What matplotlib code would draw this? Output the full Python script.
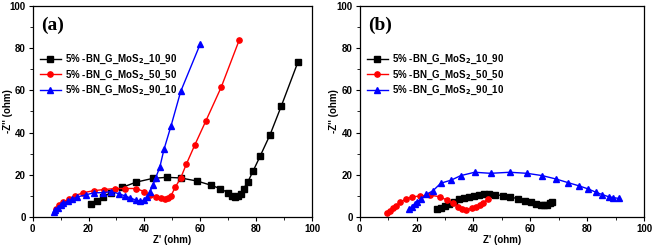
import matplotlib.pyplot as plt
from matplotlib.ticker import MultipleLocator

plt.rcParams['font.family'] = 'Liberation Sans'
plt.rcParams['font.weight'] = 'bold'
plt.rcParams['mathtext.default'] = 'bf'

labels = ["5% -BN_G_MoS$_2$_10_90", "5% -BN_G_MoS$_2$_50_50", "5% -BN_G_MoS$_2$_90_10"]
colors = ["black", "red", "blue"]
markers = ["s", "o", "^"]

# panel (a)
a_x_1090 = [21, 23, 25, 28, 32, 37, 43, 48, 53, 59, 64, 67, 70, 71.5, 72.5, 73.5, 74.5, 75.5, 77, 79, 81.5, 85, 89, 95]
a_y_1090 = [6, 7.5, 9.5, 11.5, 14, 16.5, 18.3, 18.8, 18.5, 17, 15, 13.5, 11.5, 10, 9.5, 10, 11, 13.5, 16.5, 22, 29, 39, 52.5, 73.5]
a_x_5050 = [8.5, 9.5, 11, 13, 15, 18, 22, 25.5, 29.5, 33, 37, 40, 42, 44, 46, 47.5, 48.5, 49.5, 51, 53, 55, 58, 62, 67.5, 74]
a_y_5050 = [4, 5.5, 7, 8.5, 10, 11.5, 12.5, 13, 13.5, 13.5, 13.5, 12, 10.5, 9.5, 9, 8.5, 9, 10, 14, 18.5, 25, 34, 45.5, 61.5, 84]
a_x_9010 = [7.5, 8, 9, 10, 11, 12.5, 14, 16, 19, 22, 25, 28, 31, 33, 35, 37, 38.5, 40, 41, 42, 43, 44, 45.5, 47, 49.5, 53, 60]
a_y_9010 = [2.5, 3.5, 4.5, 5.5, 6.5, 7.5, 8.5, 9.5, 10.5, 11.5, 11.5, 12, 11, 10, 9, 8, 7.5, 8, 9.5, 12, 15, 18.5, 23.5, 32, 43, 59.5, 82]

# panel (b)
b_x_1090 = [27, 28.5, 29.9, 31.4, 33, 34.9, 36.6, 38.5, 40.2, 41.9, 43.7, 45.5, 47.7, 50.3, 52.8, 55.5, 58, 60.3, 62.1, 63.7, 64.8, 65.9, 66.8, 67.6]
b_y_1090 = [3.6, 4.3, 5.2, 6.2, 7.3, 8.4, 8.8, 9.6, 10.1, 10.6, 10.7, 10.7, 10.6, 10.1, 9.5, 8.7, 7.7, 7, 6.2, 5.7, 5.5, 5.8, 6.5, 7.1]
b_x_5050 = [9.6, 10.6, 11.7, 12.9, 14.3, 16.2, 18.5, 21.1, 24.6, 28.1, 30.7, 32.8, 34.6, 36.1, 37.5, 39.3, 41, 42.4, 43.4, 45]
b_y_5050 = [1.7, 2.8, 4.1, 5.4, 7, 8.5, 9.6, 9.9, 10.4, 9.6, 8, 6.5, 4.9, 3.9, 3.4, 4.1, 4.9, 5.7, 6.8, 8.4]
b_x_9010 = [17.2, 18.3, 19.3, 20.3, 21.7, 23.4, 25.8, 28.5, 32.2, 35.5, 40.4, 46, 52.8, 58.8, 64.2, 69, 73.2, 77, 80.3, 83.1, 85.3, 87.5, 89.2, 91]
b_y_9010 = [3.6, 4.9, 6.2, 7.3, 8.5, 10.7, 12.5, 16, 17.5, 19.6, 21.2, 20.7, 21.2, 20.7, 19.6, 18, 16.3, 14.8, 13.3, 11.7, 10.6, 9.6, 9.2, 8.8]

panels = [
    ("(a)", [(a_x_1090, a_y_1090), (a_x_5050, a_y_5050), (a_x_9010, a_y_9010)]),
    ("(b)", [(b_x_1090, b_y_1090), (b_x_5050, b_y_5050), (b_x_9010, b_y_9010)]),
]

fig = plt.figure(figsize=(6.54, 2.48), dpi=100)
ax_a = fig.add_axes([0.050, 0.125, 0.427, 0.851])
ax_b = fig.add_axes([0.550, 0.125, 0.435, 0.851])

for ax, (tag, series) in zip([ax_a, ax_b], panels):
    for (x, y), lab, c, m in zip(series, labels, colors, markers):
        ax.plot(x, y, color=c, marker=m, markersize=3.8, linewidth=1.0, label=lab)
    ax.set_xlim(0, 100)
    ax.set_ylim(0, 100)
    ax.xaxis.set_major_locator(MultipleLocator(20))
    ax.xaxis.set_minor_locator(MultipleLocator(10))
    ax.yaxis.set_major_locator(MultipleLocator(20))
    ax.yaxis.set_minor_locator(MultipleLocator(10))
    ax.tick_params(which='major', length=3, width=0.8, labelsize=7, pad=2)
    ax.tick_params(which='minor', length=2, width=0.6)
    for s in ax.spines.values():
        s.set_linewidth(0.9)
    ax.set_xlabel("Z' (ohm)", fontsize=7, fontweight='bold', labelpad=1)
    ax.set_ylabel("-Z'' (ohm)", fontsize=7, fontweight='bold')
    ax.yaxis.set_label_coords(-0.072, 0.5)
    ax.text(0.03, 0.95, tag, transform=ax.transAxes, fontsize=14, fontweight='bold',
            family='Liberation Serif', va='top')
    ax.legend(loc='upper left', bbox_to_anchor=(0.0, 0.81), frameon=False,
              fontsize=7, handlelength=2.2, handletextpad=0.4,
              labelspacing=0.25, borderaxespad=0.3)

fig.savefig("out.png", dpi=100)
